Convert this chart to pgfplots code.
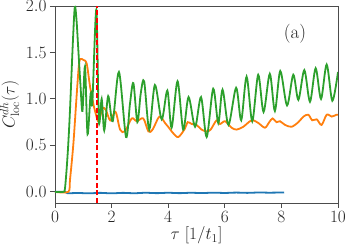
\documentclass[border=0pt]{standalone}
\usepackage{pgfplots}
\pgfplotsset{compat=1.18}
\definecolor{tabblue}{RGB}{31,119,180}
\definecolor{taborange}{RGB}{255,127,14}
\definecolor{tabgreen}{RGB}{44,160,44}
\begin{document}
\begin{tikzpicture}
\useasboundingbox (-55pt,-42pt) rectangle (291pt,203pt);
\begin{axis}[
  at={(0,0)}, anchor=south west,
  scale only axis, width=283pt, height=197pt,
  xmin=0, xmax=10, ymin=-0.12, ymax=2.0,
  xtick={0,2,4,6,8,10}, ytick={0,0.5,1,1.5,2},
  tick align=outside, xtick pos=bottom, ytick pos=left,
  major tick length=5pt,
  yticklabel style={/pgf/number format/.cd,fixed,fixed zerofill,precision=1},
  tick label style={font=\fontsize{16.8}{20}\selectfont, black!85},
  label style={font=\fontsize{16.8}{20}\selectfont, black!85},
  xlabel={$\tau\ [1/t_1]$},
  xlabel style={yshift=3pt},
  ylabel={$C^{dh}_{\mathrm{loc}}(\tau)$},
  axis line style={black!70, line width=0.9pt},
  every tick/.style={black!70, line width=0.9pt},
  clip=true,
]
\addplot[tabblue, line width=1.8pt, smooth] coordinates {
(0,0) (0.35,0) (0.45,-0.015) (0.8,-0.012) (1.2,-0.016) (1.6,-0.011) (2.0,-0.016) (2.4,-0.011) (2.8,-0.015) (3.2,-0.010) (3.6,-0.014) (4.0,-0.010) (4.4,-0.014) (4.8,-0.010) (5.2,-0.013) (5.6,-0.009) (6.0,-0.012) (6.4,-0.008) (6.8,-0.011) (7.2,-0.007) (7.6,-0.009) (8.1,-0.006)
};
\addplot[taborange, line width=1.8pt, smooth] coordinates {
(0,0) (0.47,0.0) (0.53,0.13) (0.65,0.52) (0.77,1.06) (0.85,1.38) (0.91,1.43) (1.00,1.42) (1.12,1.38) (1.24,1.13) (1.36,0.94) (1.44,0.84) (1.52,0.76) (1.58,0.79) (1.68,0.90) (1.80,0.88) (1.95,0.77) (2.14,0.86) (2.30,0.67) (2.47,0.65) (2.71,0.79) (2.89,0.76) (3.12,0.79) (3.30,0.65) (3.45,0.67) (3.69,0.81) (3.89,0.74) (4.00,0.70) (4.18,0.63) (4.36,0.59) (4.59,0.68) (4.69,0.75) (4.83,0.73) (5.00,0.72) (5.18,0.67) (5.36,0.65) (5.50,0.67) (5.71,0.77) (5.83,0.73) (6.01,0.76) (6.24,0.69) (6.42,0.67) (6.65,0.70) (6.89,0.76) (7.01,0.77) (7.19,0.74) (7.42,0.69) (7.57,0.75) (7.69,0.79) (7.83,0.75) (7.95,0.76) (8.13,0.72) (8.36,0.70) (8.60,0.75) (8.78,0.81) (8.95,0.83) (9.09,0.77) (9.25,0.78) (9.42,0.72) (9.60,0.83) (9.78,0.81) (9.95,0.83) (10,0.83)
};
\addplot[tabgreen, line width=1.8pt, smooth] coordinates {
(0,0) (0.30,0.0) (0.35,0.03) (0.41,0.24) (0.47,0.52) (0.53,0.88) (0.63,1.6) (0.70,1.99) (0.76,1.85) (0.82,1.55) (0.90,1.15) (0.97,0.87) (1.06,1.35) (1.15,0.62) (1.26,1.06) (1.32,0.96) (1.46,1.96) (1.55,0.76) (1.65,1.00) (1.74,0.66) (1.88,1.03) (2.04,0.76) (2.26,1.29) (2.51,0.59) (2.65,0.95) (2.77,1.17) (2.91,0.75) (3.03,1.06) (3.15,1.19) (3.33,0.67) (3.53,1.15) (3.77,0.78) (3.97,1.09) (4.12,0.69) (4.33,1.19) (4.53,0.67) (4.72,1.02) (4.95,0.70) (5.16,1.02) (5.36,0.59) (5.59,1.11) (5.77,0.74) (5.92,1.10) (6.13,0.72) (6.40,1.12) (6.58,0.77) (6.77,1.24) (6.97,0.76) (7.18,1.26) (7.37,0.86) (7.59,1.27) (7.77,0.87) (7.96,1.30) (8.20,0.93) (8.42,1.26) (8.60,0.99) (8.81,1.31) (9.01,0.97) (9.21,1.33) (9.40,1.00) (9.60,1.37) (9.80,0.98) (10.0,1.29)
};
\addplot[red, line width=2pt, dash pattern=on 5pt off 2.5pt] coordinates {(1.5,-0.12) (1.5,2.0)};
\node[font=\fontsize{19}{22}\selectfont, black!85] at (axis cs:8.48,1.70) {(a)};
\end{axis}
\end{tikzpicture}
\end{document}
